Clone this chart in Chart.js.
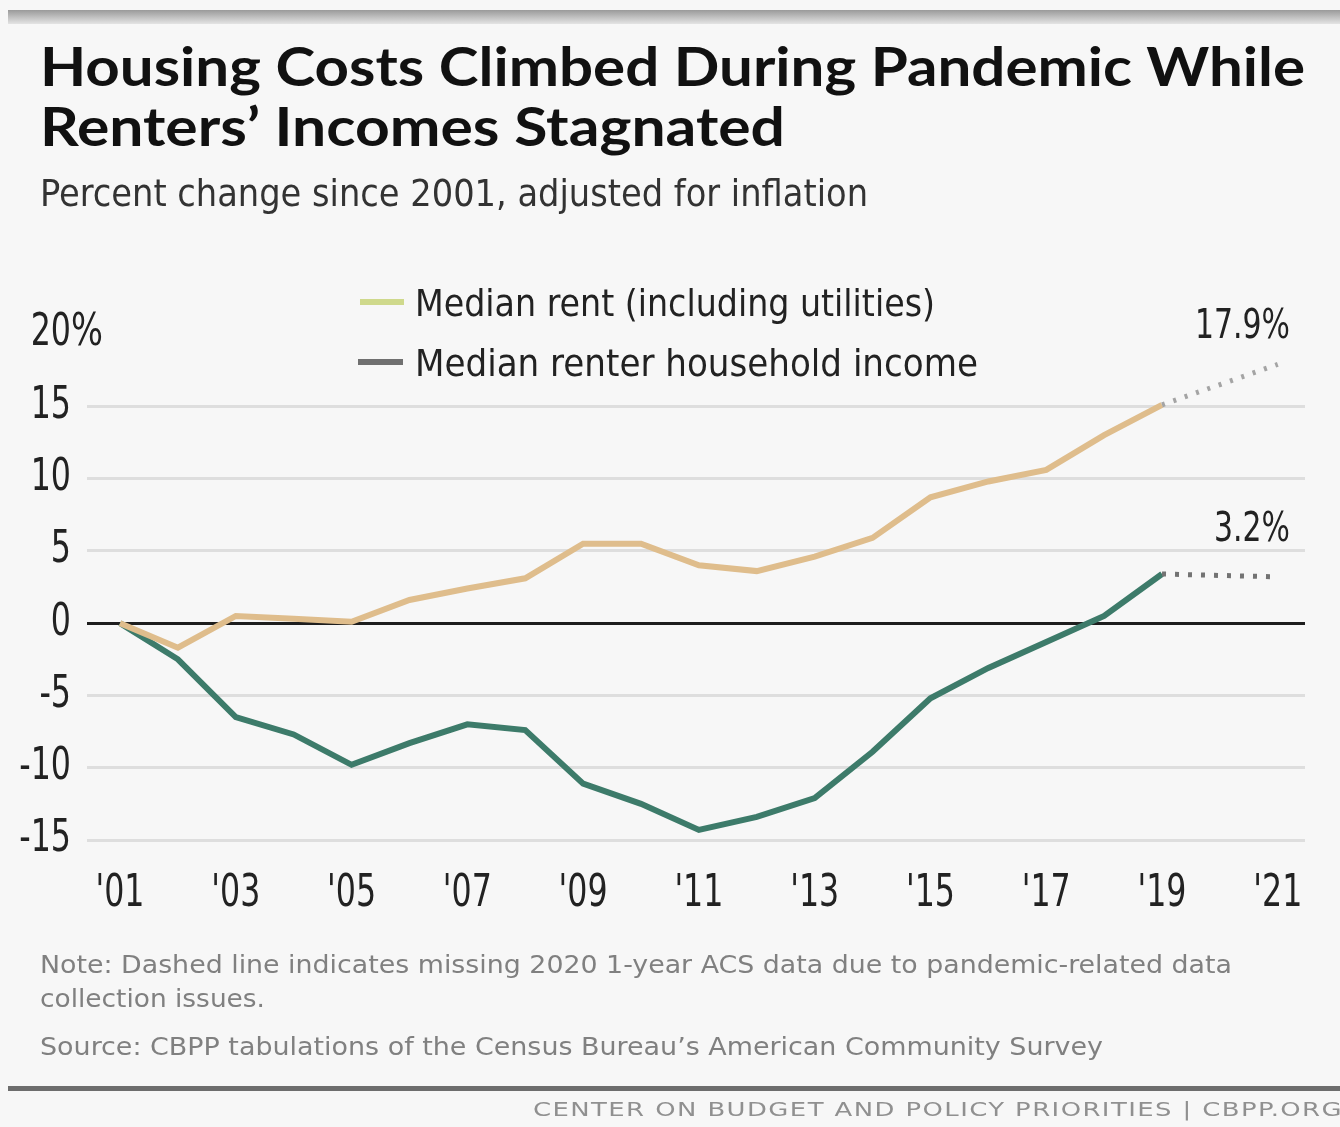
<!DOCTYPE html>
<html>
<head>
<meta charset="utf-8">
<script src="https://cdn.jsdelivr.net/npm/chart.js@4/dist/chart.umd.min.js"></script>
<style>
  body { margin: 0; background: #f7f7f7; }
  #wrap { position: relative; width: 1340px; height: 1127px; overflow: hidden; background: #f7f7f7; }
  #c { position: absolute; left: 0; top: 0; }
  .t { position: absolute; white-space: nowrap; transform-origin: 0 0; }
  .narrow { font-family: "Liberation Sans Narrow", "DejaVu Sans Condensed", Roboto, sans-serif; }
  #topband { position: absolute; left: 8px; right: 0; top: 10px; height: 14px;
             background: linear-gradient(#9a9a9a, #e4e4e4); }
  #rule { position: absolute; left: 8px; right: 0; top: 1086px; height: 5px; background: #6d6d6d; }
  .mk { position: absolute; height: 6px; }
</style>
</head>
<body>
<div id="wrap">
  <div id="topband"></div>
  <canvas id="c" width="1340" height="1127"></canvas>

  <div class="t" data-w="1265" style="left:40px;top:33px;font:700 54px Lato, sans-serif;color:#111;">Housing Costs Climbed During Pandemic While</div>
  <div class="t" data-w="745" style="left:40px;top:93px;font:700 54px Lato, sans-serif;color:#111;">Renters’ Incomes Stagnated</div>
  <div class="t narrow" data-w="828" style="left:40px;top:171px;font-size:38px;color:#333;">Percent change since 2001, adjusted for inflation</div>

  <div class="mk" style="left:360px;top:299px;width:44px;background:#cfd98c;"></div>
  <div class="t narrow" data-w="520" style="left:415px;top:281px;font-size:38px;color:#222;">Median rent (including utilities)</div>
  <div class="mk" style="left:358px;top:359px;width:45px;background:#707070;"></div>
  <div class="t narrow" data-w="563" style="left:415px;top:341px;font-size:38px;color:#222;">Median renter household income</div>

  <div class="t narrow" data-w="1192" style="left:40px;top:950px;font-size:25px;color:#808080;">Note: Dashed line indicates missing 2020 1-year ACS data due to pandemic-related data</div>
  <div class="t narrow" data-w="225" style="left:40px;top:984px;font-size:25px;color:#808080;">collection issues.</div>
  <div class="t narrow" data-w="1063" style="left:40px;top:1032px;font-size:25px;color:#808080;">Source: CBPP tabulations of the Census Bureau’s American Community Survey</div>

  <div id="rule"></div>
  <div class="t narrow" data-w="810" style="left:533px;top:1097px;font-size:20px;color:#909090;letter-spacing:1px;">CENTER ON BUDGET AND POLICY PRIORITIES | CBPP.ORG</div>
</div>

<script>
// data (percent change since 2001)
const years = [2001, 2002, 2003, 2004, 2005, 2006, 2007, 2008, 2009, 2010,
               2011, 2012, 2013, 2014, 2015, 2016, 2017, 2018, 2019, 2020, 2021];
const rent = [0, -1.7, 0.5, 0.3, 0.1, 1.6, 2.4, 3.1, 5.5, 5.5,
              4.0, 3.6, 4.6, 5.9, 8.7, 9.8, 10.6, 13.0, 15.1, null, 17.9];
const income = [0, -2.5, -6.5, -7.7, -9.8, -8.3, -7.0, -7.4, -11.1, -12.5,
                -14.3, -13.4, -12.1, -8.9, -5.2, -3.1, -1.3, 0.5, 3.4, null, 3.2];
const tickYears = [2001, 2003, 2005, 2007, 2009, 2011, 2013, 2015, 2017, 2019, 2021];
const yTicks = [-15, -10, -5, 0, 5, 10, 15, 20];
const endLabels = ["17.9%", "3.2%"];

// stretch html texts to the widths measured on the reference
document.querySelectorAll(".t[data-w]").forEach(el => {
    const w = el.getBoundingClientRect().width;
    el.style.transform = `scaleX(${el.dataset.w / w})`;
});

const fam = "'Liberation Sans Narrow', 'DejaVu Sans Condensed', Roboto, sans-serif";

// dotted bridge over the missing 2020 value
const skipped = ctx => ctx.p0.skip || ctx.p1.skip;
const gapStyle = (dash, col) => ({
    borderDash: ctx => (skipped(ctx) ? dash : undefined),
    borderColor: ctx => (skipped(ctx) ? col : undefined),
    borderWidth: ctx => (skipped(ctx) ? 5 : undefined)
});

// narrow text: draw squeezed horizontally
function squeezed(ctx, text, x, y, align, sx) {
    ctx.save();
    ctx.translate(x, y);
    ctx.scale(sx, 1);
    ctx.textAlign = align;
    ctx.fillText(text, 0, 0);
    ctx.restore();
}

const labelsPlugin = {
    id: "labelsPlugin",
    afterDraw(chart) {
        const { ctx, scales: { x, y }, chartArea } = chart;
        ctx.save();
        ctx.fillStyle = "#222";
        ctx.textBaseline = "middle";
        ctx.font = `44px ${fam}`;
        const lx = chartArea.left - 16;
        y.ticks.forEach(t => {
            squeezed(ctx, String(t.value), lx, y.getPixelForValue(t.value), "right", 0.8);
        });
        squeezed(ctx, "%", lx, y.getPixelForValue(20), "left", 0.85);

        const ty = chartArea.bottom + 55;
        x.ticks.forEach(t => {
            squeezed(ctx, "'" + String(t.value).slice(2), x.getPixelForValue(t.value), ty, "center", 0.8);
        });

        ctx.font = `40px ${fam}`;
        const xr = x.getPixelForValue(2021) + 12;
        squeezed(ctx, endLabels[0], xr, y.getPixelForValue(rent[20]) - 37, "right", 0.83);
        squeezed(ctx, endLabels[1], xr, y.getPixelForValue(income[20]) - 46, "right", 0.83);
        ctx.restore();
    }
};

new Chart(document.getElementById("c"), {
    type: "line",
    data: {
        datasets: [
            {
                label: "Median rent (including utilities)",
                data: years.map((yr, i) => ({ x: yr, y: rent[i] })),
                borderColor: "#dfbd8c",
                borderWidth: 6,
                segment: gapStyle([3, 9], "#a4a4a4")
            },
            {
                label: "Median renter household income",
                data: years.map((yr, i) => ({ x: yr, y: income[i] })),
                borderColor: "#3d7b6a",
                borderWidth: 6,
                segment: gapStyle([4, 9], "#737373")
            }
        ]
    },
    options: {
        responsive: false,
        animation: false,
        spanGaps: true,
        pointRadius: 0,
        tension: 0,
        layout: { padding: { left: 0, right: 35, top: 334, bottom: 207 } },
        plugins: { legend: { display: false }, tooltip: { enabled: false } },
        scales: {
            x: {
                type: "linear",
                min: 2000.43,
                max: 2021.47,
                afterBuildTicks: s => { s.ticks = tickYears.map(v => ({ value: v })); },
                afterFit: s => { s.height = 80; },
                grid: { display: false },
                border: { display: false },
                ticks: { display: false }
            },
            y: {
                min: -15,
                max: 20,
                afterBuildTicks: s => { s.ticks = yTicks.map(v => ({ value: v })); },
                afterFit: s => { s.width = 87; },
                border: { display: false },
                grid: {
                    drawTicks: false,
                    lineWidth: 3,
                    color: c => (c.tick.value === 0 ? "#1e1e1e" : c.tick.value === 20 ? "rgba(0,0,0,0)" : "#dedede")
                },
                ticks: { display: false }
            }
        }
    },
    plugins: [labelsPlugin]
});
</script>
</body>
</html>
